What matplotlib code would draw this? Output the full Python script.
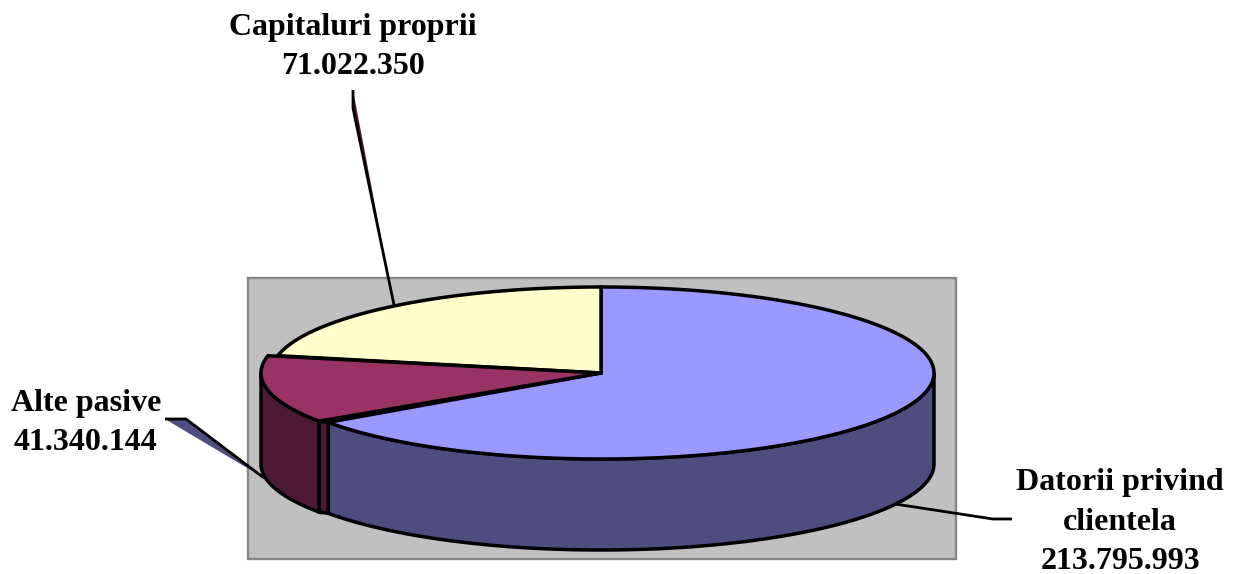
import numpy as np
import matplotlib
matplotlib.use('Agg')
import matplotlib.pyplot as plt

labels = ['Datorii privind\nclientela', 'Alte pasive', 'Capitaluri proprii']
values = [213795993, 41340144, 71022350]
top_colors = ['#9999FF', '#993366', '#FFFFCC']
wall_colors = ['#4D4D80', '#4D1A33', '#80806A']

# pie geometry in pixels, the slices have slightly different radii in the original
cx, cy = 601, 373
radii_x = [333, 340, 330]
ry = 86
depth = 91
start = 90
gap = 1  # blue rim stops a bit before the maroon one
edge = 2.5


def arc(a0, a1, rx, dy=0):
    t = np.radians(np.linspace(a0, a1, 200))
    return cx + rx * np.cos(t), cy - ry * np.sin(t) + dy


def wall(ax, a0, a1, rx, color):
    x, y = arc(a0, a1, rx)
    xb, yb = arc(a0, a1, rx, depth)
    ax.fill(np.r_[x, xb[::-1]], np.r_[y, yb[::-1]], fc=color, ec='black', lw=edge)


fig = plt.figure(figsize=(12.34, 5.74), dpi=100)
ax = fig.add_axes([0, 0, 1, 1])
ax.set_xlim(0, 1234)
ax.set_ylim(574, 0)
ax.axis('off')

# grey plot area
ax.fill([247.5, 956, 956, 247.5], [278, 278, 559, 559], fc='#C0C0C0', ec='#868686', lw=1.7)

# slice limits from the values
sweep = np.array(values) / sum(values) * 360
ends = start - np.cumsum(sweep)
a_blue = ends[0]
a_maroon = ends[1]

# leader lines, drawn under the pie
ax.fill([165, 186, 264], [419, 419, 478], color='#4D4D80', lw=0)
ax.plot([165, 186, 264], [419, 419, 478], color='black', lw=2, solid_capstyle='butt')
ax.fill([353, 353, 394], [90, 108, 305], color='#4D1A33', lw=0)
ax.plot([353, 353, 394], [90, 108, 305], color='black', lw=2, solid_capstyle='butt')
ax.plot([895, 993, 1012], [504, 519, 519], color='black', lw=2, solid_capstyle='butt')

# side walls, only the front part of the rim shows
wall(ax, 0, a_blue + gap, radii_x[0], wall_colors[0])
wall(ax, a_blue, -180, radii_x[1], wall_colors[1])

# radial strip between the blue rim and the maroon rim
bx, by = arc(a_blue + gap, a_blue + gap, radii_x[0])
mx, my = arc(a_blue, a_blue, radii_x[1])
ax.fill([bx[0], mx[0], mx[0], bx[0]], [by[0], my[0], my[0] + depth, by[0] + depth],
        fc=wall_colors[1], ec='black', lw=edge)

# top faces
x, y = arc(start, a_blue + gap, radii_x[0])
ax.fill(np.r_[cx, x], np.r_[cy, y], fc=top_colors[0], ec='black', lw=edge)
x, y = arc(a_maroon, ends[2], radii_x[2])
ax.fill(np.r_[cx, x], np.r_[cy, y], fc=top_colors[2], ec='black', lw=edge)
x, y = arc(a_blue, a_maroon, radii_x[1])
ax.fill(np.r_[cx, x], np.r_[cy, y], fc=top_colors[1], ec='black', lw=edge)
# sliver left between the two radial edges reads as a thick black line
ax.fill([cx, bx[0], mx[0]], [cy, by[0], my[0]], fc='black', ec='black', lw=1)

label_pos = [(1120, 522), (86, 423), (353, 47)]
for name, val, (lx, ly) in zip(labels, values, label_pos):
    txt = name + '\n' + f'{val:,}'.replace(',', '.')
    ax.text(lx, ly, txt, ha='center', va='center', family='Liberation Serif', weight='bold',
            fontsize=23, linespacing=1.47, color='black')

fig.savefig('out.png', dpi=100)
